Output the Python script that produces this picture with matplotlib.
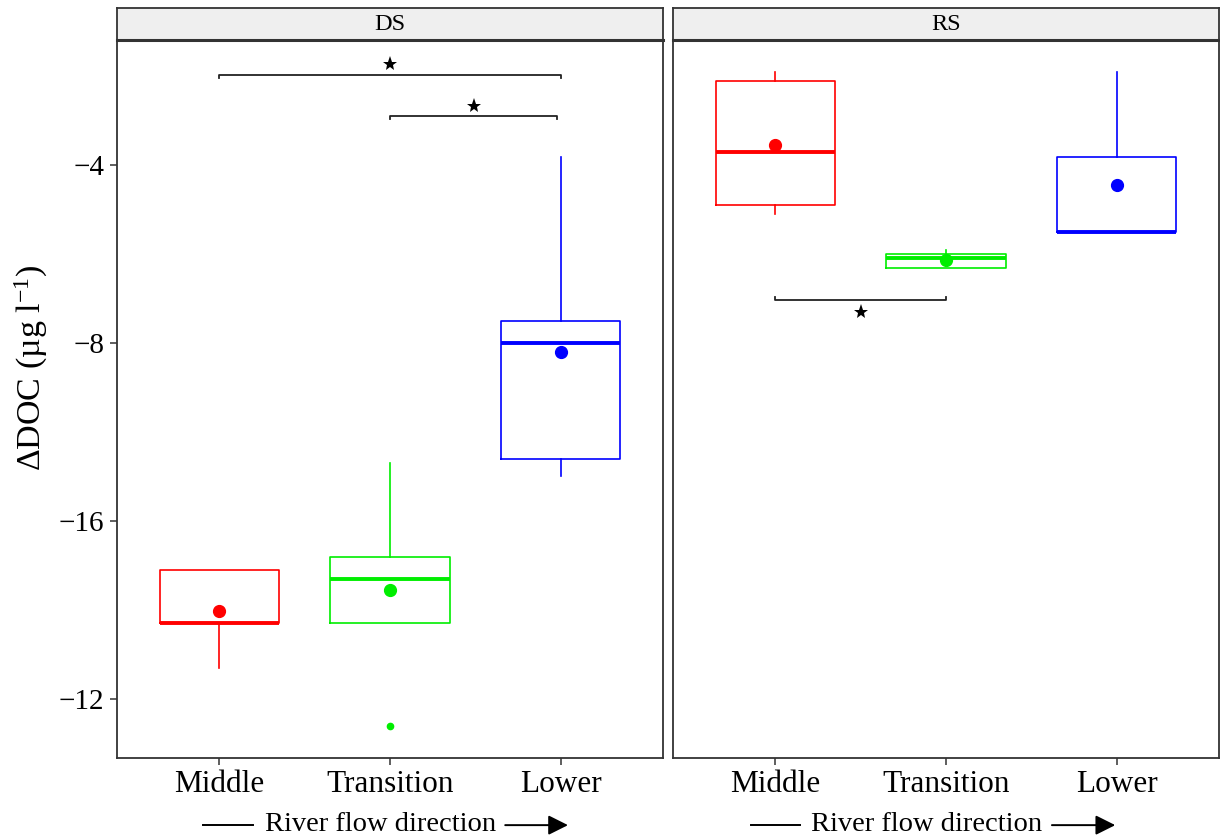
import matplotlib
matplotlib.use("Agg")
import matplotlib.pyplot as plt

plt.rcParams['font.family'] = ['Liberation Serif', 'DejaVu Serif']
plt.rcParams['mathtext.fontset'] = 'custom'
plt.rcParams['mathtext.rm'] = 'Liberation Serif'
plt.rcParams['mathtext.it'] = 'Liberation Serif:italic'

# categories along the river
zones = ['Middle', 'Transition', 'Lower']
colors = ['#ff0000', '#00ee00', '#0000ff']
panels = ['DS', 'RS']

# box statistics per panel, one entry per zone (axis units)
q1 = {'DS': [-14.29, -14.30, -10.61], 'RS': [-4.91, -6.31, -5.50]}
med = {'DS': [-14.29, -13.30, -7.99], 'RS': [-3.71, -6.10, -5.50]}
q3 = {'DS': [-13.10, -12.80, -7.51], 'RS': [-2.11, -6.00, -3.81]}
whislo = {'DS': [-15.30, -14.30, -11.00], 'RS': [-5.10, -6.31, -5.50]}
whishi = {'DS': [-13.10, -10.70, -3.81], 'RS': [-1.92, -5.91, -1.92]}
means = {'DS': [-14.02, -13.55, -8.20], 'RS': [-3.55, -6.13, -4.45]}
outliers = {'DS': [[], [-16.60], []], 'RS': [[], [], []]}

# significance brackets: (from, to, height, star height)
brackets = {
    'DS': [(1, 3, -1.97, -1.73), (2, 2.98, -2.89, -2.67)],
    'RS': [(1, 2, -7.03, -7.30)],
}

yticks = [-4, -8, -12, -16]
ytick_labels = ['\u22124', '\u22128', '\u221216', '\u221212']

# position of the flow-direction label pieces per panel (axes fraction)
flow_label = {
    'DS': dict(line=(0.1575, 0.249), text=0.4835, arrow=(0.711, 0.826)),
    'RS': dict(line=(0.143, 0.233), text=0.465, arrow=(0.694, 0.81)),
}

fig = plt.figure(figsize=(12.2, 8.36), dpi=100)
W, H = 1220, 836
left_px = [117, 673]
pw, top_px, bot_px = 546, 40, 758

for i, name in enumerate(panels):
    ax = fig.add_axes([left_px[i] / W, (H - bot_px) / H, pw / W, (bot_px - top_px) / H])
    strip = fig.add_axes([left_px[i] / W, (H - top_px) / H, pw / W, 32 / H])

    for j, zone in enumerate(zones):
        stats = [dict(med=med[name][j], q1=q1[name][j], q3=q3[name][j],
                      whislo=whislo[name][j], whishi=whishi[name][j],
                      mean=means[name][j], fliers=outliers[name][j])]
        c = colors[j]
        ax.bxp(stats, positions=[j + 1], widths=0.7, showcaps=False,
               showmeans=True, showfliers=True, patch_artist=False,
               boxprops=dict(color=c, linewidth=1.2),
               whiskerprops=dict(color=c, linewidth=1.2),
               medianprops=dict(color=c, linewidth=2.8, solid_capstyle='butt'),
               meanprops=dict(marker='o', markerfacecolor=c, markeredgecolor=c,
                              markersize=8.5),
               flierprops=dict(marker='o', markerfacecolor=c, markeredgecolor=c,
                               markersize=4.5))

    tip = 0.07
    for x1, x2, yb, ys in brackets[name]:
        sign = -1 if ys > yb else 1
        ax.plot([x1, x1, x2, x2], [yb + sign * tip, yb, yb, yb + sign * tip],
                color='#222222', lw=1.3)
        ax.plot([(x1 + x2) / 2], [ys], marker='*', color='black',
                markersize=11, markeredgewidth=0)

    ax.set_xlim(0.4, 3.6)
    ax.set_ylim(-17.326, -1.191)
    ax.set_xticks([1, 2, 3])
    ax.set_xticklabels(zones, fontsize=22.5)
    ax.set_yticks(yticks)
    if i == 0:
        ax.set_yticklabels(ytick_labels, fontsize=21)
        ax.set_ylabel('\u0394DOC (\u00b5g l$^{\u22121}$)', fontsize=24.5)
        ax.yaxis.set_label_coords(-0.123, 0.543)
    else:
        ax.tick_params(axis='y', left=False, labelleft=False)
    ax.tick_params(direction='out', length=5, width=1.1, color='#333333', pad=4)
    for s in ax.spines.values():
        s.set_color('#333333')
        s.set_linewidth(1.3)

    fl = flow_label[name]
    yl = -0.0935
    ax.plot(fl['line'], [yl, yl], transform=ax.transAxes, clip_on=False,
            color='black', lw=1.4)
    ax.text(fl['text'], -0.1015, 'River flow direction', transform=ax.transAxes,
            ha='center', va='baseline', fontsize=20.5)
    ax.annotate('', xy=(fl['arrow'][1], yl), xytext=(fl['arrow'][0], yl),
                xycoords='axes fraction', annotation_clip=False,
                arrowprops=dict(arrowstyle='-|>,head_length=0.6,head_width=0.3',
                                lw=1.4, color='black',
                                mutation_scale=20, shrinkA=0, shrinkB=0))

    strip.set_facecolor('#efefef')
    strip.set_xticks([])
    strip.set_yticks([])
    for s in strip.spines.values():
        s.set_color('#333333')
        s.set_linewidth(1.3)
    strip.spines['bottom'].set_linewidth(2.2)
    strip.text(0.5, 0.5, name, transform=strip.transAxes, ha='center',
               va='center', fontsize=17.5)

fig.savefig('out.png', dpi=100)
